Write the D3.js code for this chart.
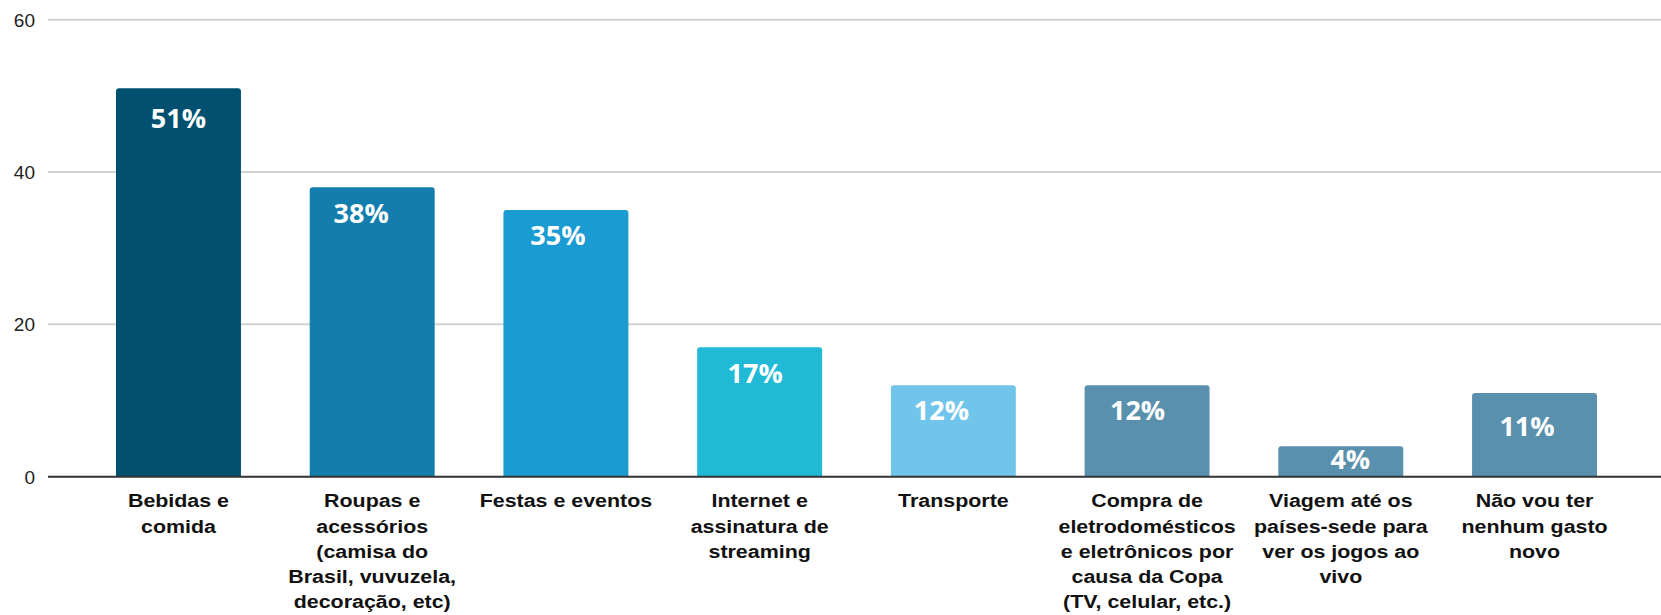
<!DOCTYPE html>
<html lang="pt-BR">
<head>
<meta charset="utf-8">
<script src="https://cdn.jsdelivr.net/npm/d3@7"></script>
<style>
  html, body { margin: 0; padding: 0; background: #fff; }
  svg { display: block; }
</style>
</head>
<body>
<svg id="chart" width="1661" height="615"></svg>
<script>
// Gastos previstos durante a Copa (% dos entrevistados)
const categories = [
  "Bebidas e comida",
  "Roupas e acessórios (camisa do Brasil, vuvuzela, decoração, etc)",
  "Festas e eventos",
  "Internet e assinatura de streaming",
  "Transporte",
  "Compra de eletrodomésticos e eletrônicos por causa da Copa (TV, celular, etc.)",
  "Viagem até os países-sede para ver os jogos ao vivo",
  "Não vou ter nenhum gasto novo"
];
const categoryLines = [
  ["Bebidas e", "comida"],
  ["Roupas e", "acessórios", "(camisa do", "Brasil, vuvuzela,", "decoração, etc)"],
  ["Festas e eventos"],
  ["Internet e", "assinatura de", "streaming"],
  ["Transporte"],
  ["Compra de", "eletrodomésticos", "e eletrônicos por", "causa da Copa", "(TV, celular, etc.)"],
  ["Viagem até os", "países-sede para", "ver os jogos ao", "vivo"],
  ["Não vou ter", "nenhum gasto", "novo"]
];
const values = [51, 38, 35, 17, 12, 12, 4, 11];
const yTicks = [0, 20, 40, 60];
const barColors = ["#01506f", "#137eae", "#1a9bd1", "#20bad7", "#72c5ea", "#5990ae", "#5990ae", "#5990ae"];

// Small hand nudges for the value labels (px, relative to bar centre / bar top)
const labelDx = [0, -11, -8, -4.5, -12, -9.5, 9.5, -7.5];
const labelDy = [40, 36, 35, 36, 35, 35, 23, 43];

const svg = d3.select("#chart");
const W = 1661;
const plotLeft = 48;

const x = d3.scaleBand()
  .domain(categories)
  .range([plotLeft, 1665])
  .paddingInner(0.355)
  .paddingOuter(0.351);

const y = d3.scaleLinear()
  .domain([0, 60])
  .range([476.7, 19.7]);

// Horizontal gridlines
svg.append("g")
  .selectAll("line")
  .data(yTicks.filter(d => d !== 0))
  .join("line")
  .attr("x1", plotLeft)
  .attr("x2", W)
  .attr("y1", d => y(d))
  .attr("y2", d => y(d))
  .attr("stroke", "#d2d2d2")
  .attr("stroke-width", 2);

// Y axis tick labels
svg.append("g")
  .selectAll("text")
  .data(yTicks)
  .join("text")
  .attr("x", 35)
  .attr("y", d => y(d))
  .attr("dy", "0.36em")
  .attr("text-anchor", "end")
  .attr("font-family", "'Liberation Sans', Arial, sans-serif")
  .attr("font-size", 19)
  .attr("fill", "#222")
  .text(d => d);

// Bars with slightly rounded top corners
function barPath(x0, y0, w, h, r) {
  r = Math.min(r, h, w / 2);
  return `M${x0},${y0 + h}V${y0 + r}Q${x0},${y0} ${x0 + r},${y0}` +
         `H${x0 + w - r}Q${x0 + w},${y0} ${x0 + w},${y0 + r}V${y0 + h}Z`;
}

svg.append("g")
  .selectAll("path")
  .data(values)
  .join("path")
  .attr("d", (d, i) => barPath(x(categories[i]), y(d), x.bandwidth(), y(0) - y(d), 3))
  .attr("fill", (d, i) => barColors[i]);

// Baseline
svg.append("line")
  .attr("x1", plotLeft)
  .attr("x2", W)
  .attr("y1", y(0))
  .attr("y2", y(0))
  .attr("stroke", "#333")
  .attr("stroke-width", 2);

// Value labels inside the bars
svg.append("g")
  .selectAll("text")
  .data(values)
  .join("text")
  .attr("x", (d, i) => x(categories[i]) + x.bandwidth() / 2 + labelDx[i])
  .attr("y", (d, i) => y(d) + labelDy[i])
  .attr("text-anchor", "middle")
  .attr("font-family", "'Open Sans', sans-serif")
  .attr("font-weight", 700)
  .attr("font-size", 27)
  .attr("fill", "#fff")
  .text(d => d + "%");

// Category labels (wrapped, slightly wide bold type)
const catG = svg.append("g")
  .selectAll("text")
  .data(categoryLines)
  .join("text")
  .attr("transform", (d, i) =>
    `translate(${x(categories[i]) + x.bandwidth() / 2},507.3) scale(1.19,1)`)
  .attr("text-anchor", "middle")
  .attr("font-family", "'Liberation Sans', Arial, sans-serif")
  .attr("font-weight", 700)
  .attr("font-size", 18)
  .attr("fill", "#111");

catG.selectAll("tspan")
  .data(d => d)
  .join("tspan")
  .attr("x", 0)
  .attr("y", (d, j) => j * 25.3)
  .text(d => d);
</script>
</body>
</html>
